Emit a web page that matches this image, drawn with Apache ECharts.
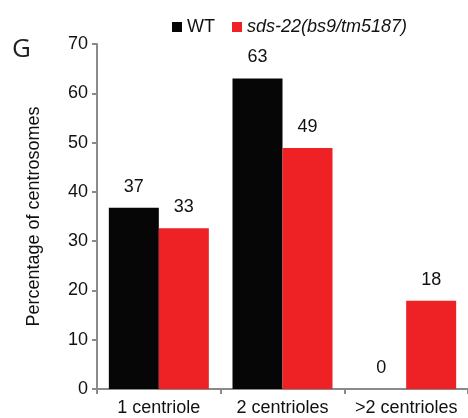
<!DOCTYPE html>
<html><head><meta charset="utf-8">
<script src="https://cdn.jsdelivr.net/npm/echarts@6/dist/echarts.min.js"></script>
<style>html,body{margin:0;padding:0;background:#fff}#c{width:468px;height:418px}</style>
</head><body><div id="c"></div>
<script>
var categories = ['1 centriole', '2 centrioles', '>2 centrioles'];
var seriesNames = ['WT', 'sds-22(bs9/tm5187)'];
var wtValues = [36.8, 63.0, 0];
var mutValues = [32.6, 48.9, 17.9];
var yTicks = {min: 0, max: 70, interval: 10};
var panelLetter = 'G';
var yAxisTitle = 'Percentage of centrosomes';

var chart = echarts.init(document.getElementById('c'));
var font = 'Liberation Sans, Arial, sans-serif';
var axisCol = '#8a8a8a';
chart.setOption({
  animation: false,
  textStyle: {fontFamily: font},
  graphic: [{type: 'text', left: 12, top: 37, style: {text: panelLetter, fontSize: 26, fontFamily: 'Open Sans, sans-serif', fontWeight: 'normal', fill: '#222'}}],
  legend: {
    left: 167, top: 13, icon: 'rect', itemWidth: 10, itemHeight: 10, itemGap: 17,
    data: seriesNames,
    textStyle: {fontSize: 18, color: '#111', rich: {i: {fontStyle: 'italic', fontSize: 18, color: '#111'}}},
    formatter: function (n) { return n === 'WT' ? n : '{i|' + n + '}'; }
  },
  grid: {left: 97, width: 375, top: 44, bottom: 29, containLabel: false},
  xAxis: {
    type: 'category', data: categories,
    axisLine: {lineStyle: {color: axisCol, width: 2}},
    axisTick: {show: true, length: 5, lineStyle: {color: axisCol, width: 2}},
    axisLabel: {fontSize: 18, color: '#111', margin: 10, interval: 0, hideOverlap: false}
  },
  yAxis: {
    type: 'value', min: yTicks.min, max: yTicks.max, interval: yTicks.interval,
    name: yAxisTitle, nameLocation: 'middle', nameGap: 54,
    nameTextStyle: {fontSize: 18, color: '#111'},
    splitLine: {show: false},
    axisLine: {show: true, lineStyle: {color: axisCol, width: 2}},
    axisTick: {show: true, length: 5, lineStyle: {color: axisCol, width: 2}},
    axisLabel: {fontSize: 18, color: '#111', margin: 9}
  },
  series: [
    {name: seriesNames[0], type: 'bar', data: wtValues, barWidth: 50, barGap: '0%',
     itemStyle: {color: '#060606'},
     label: {show: true, position: 'top', distance: 12, fontSize: 18, color: '#111', formatter: function (p) { return Math.round(p.value); }}},
    {name: seriesNames[1], type: 'bar', data: mutValues, barWidth: 50, barGap: '0%',
     itemStyle: {color: '#ee2225'},
     label: {show: true, position: 'top', distance: 12, fontSize: 18, color: '#111', formatter: function (p) { return Math.round(p.value); }}}
  ]
});
</script></body></html>
